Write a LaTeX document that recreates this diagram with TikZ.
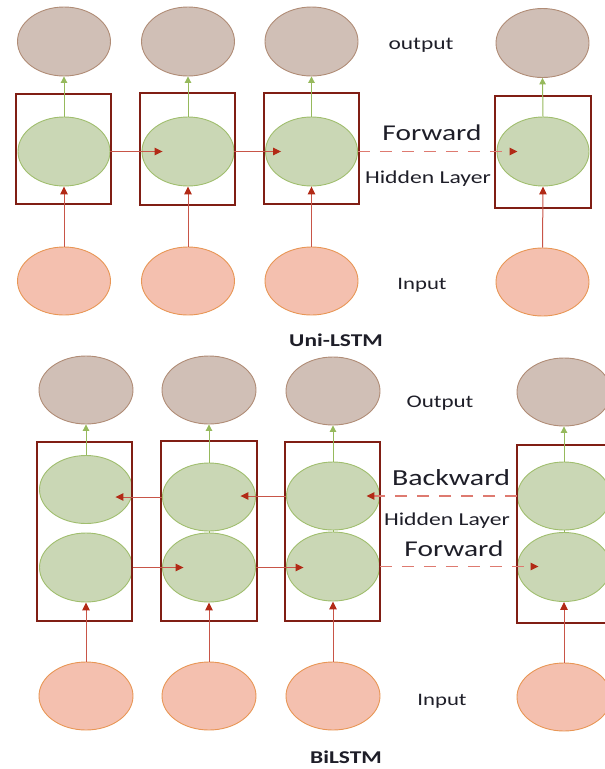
\documentclass[tikz,border=0pt]{standalone}
\usepackage{graphicx}
\usepackage{fontspec}
\setmainfont{Carlito}
\usetikzlibrary{arrows.meta,shapes.geometric}
\definecolor{outfill}{RGB}{208,191,182}
\definecolor{outdraw}{RGB}{176,140,118}
\definecolor{hidfill}{RGB}{202,215,181}
\definecolor{hiddraw}{RGB}{160,190,110}
\definecolor{infill}{RGB}{244,192,175}
\definecolor{indraw}{RGB}{232,150,85}
\definecolor{boxred}{RGB}{128,30,20}
\definecolor{linered}{RGB}{200,85,72}
\definecolor{tipred}{RGB}{178,42,22}
\definecolor{dashred}{RGB}{222,122,112}
\definecolor{greenline}{RGB}{150,185,92}
\definecolor{txt}{RGB}{30,30,40}
\newcommand{\wtxt}[1]{\scalebox{1.3}[1]{#1}}
\tikzset{
  outell/.style={ellipse, draw=outdraw, fill=outfill, line width=0.9pt, minimum width=93pt, minimum height=69pt, inner sep=0pt},
  hidell/.style={ellipse, draw=hiddraw, fill=hidfill, line width=0.9pt, minimum width=92pt, minimum height=69pt, inner sep=0pt},
  inell/.style={ellipse, draw=indraw, fill=infill, line width=0.9pt, minimum width=93pt, minimum height=68pt, inner sep=0pt},
  cellbox/.style={rectangle, draw=boxred, line width=1.9pt, inner sep=0pt, fill=none},
  redarrow/.style={draw=linered, line width=1pt, -{Triangle[length=8pt,width=7.5pt,color=tipred]}},
  dasharrow/.style={draw=dashred, line width=1.2pt, dash pattern=on 12pt off 10pt, -{Triangle[length=8pt,width=7.5pt,color=tipred]}},
  grnarrow/.style={draw=greenline, line width=1pt, -{Triangle[length=6.5pt,width=6.5pt,color=greenline]}},
  lbl/.style={anchor=base, inner sep=0pt, text=txt},
}
\begin{document}
\begin{tikzpicture}[x=1pt,y=-1pt]
\useasboundingbox (0,0) rectangle (605,769);
% ---------- Uni-LSTM ----------
\node[outell] (o1) at (64,41.5) {};
\node[outell] (o2) at (188,41.5) {};
\node[outell] (o3) at (311.5,41.5) {};
\node[outell] (o4) at (542.5,43) {};
\node[hidell] (h1) at (64,151.5) {};
\node[hidell] (h2) at (188,151.5) {};
\node[hidell] (h3) at (311.5,151.5) {};
\node[hidell] (h4) at (543,151.5) {};
\node[inell] (i1) at (64,281) {};
\node[inell] (i2) at (188,281) {};
\node[inell] (i3) at (311.5,281) {};
\node[inell] (i4) at (542.5,282) {};
\node[cellbox, minimum width=95pt, minimum height=110pt] (c1) at (63.5,149) {};
\node[cellbox, minimum width=95pt, minimum height=112pt] (c2) at (187.5,149) {};
\node[cellbox, minimum width=95pt, minimum height=111pt] (c3) at (311.5,148.5) {};
\node[cellbox, minimum width=96pt, minimum height=112pt] (c4) at (543,152) {};
\foreach \k in {1,2,3,4} {
  \draw[grnarrow] (h\k.north) -- (o\k.south);
  \draw[redarrow] (i\k.north) -- (h\k.south);
}
\draw[redarrow] (h1.east) -- ([xshift=21pt]h2.west);
\draw[redarrow] (h2.east) -- ([xshift=16pt]h3.west);
\draw[dasharrow] (h3.east) -- ([xshift=21pt]h4.west);
\node[lbl, font=\fontsize{18}{18}\selectfont] (t1) at (421,49) {\wtxt{output}};
\node[lbl, font=\fontsize{22.6}{22}\selectfont] (t2) at (432,140) {\wtxt{Forward}};
\node[lbl, font=\fontsize{18.2}{18}\selectfont] (t3) at (428,183) {\wtxt{Hidden Layer}};
\node[lbl, font=\fontsize{17.5}{18}\selectfont] (t4) at (422,289) {\wtxt{Input}};
\node[lbl, font=\fontsize{18}{18}\selectfont\bfseries] (t5) at (336,346) {\wtxt{Uni-LSTM}};
% ---------- BiLSTM ----------
\node[outell, minimum width=94pt, minimum height=68pt] (O1) at (86,390) {};
\node[outell, minimum width=94pt, minimum height=68pt] (O2) at (209,390) {};
\node[outell, minimum width=94pt, minimum height=68pt] (O3) at (333,391) {};
\node[outell, minimum width=94pt, minimum height=68pt] (O4) at (564,392) {};
\node[hidell, minimum width=93pt, minimum height=68pt] (B1) at (86,489.5) {};
\node[hidell, minimum width=93pt, minimum height=68pt] (B2) at (209,497) {};
\node[hidell, minimum width=93pt, minimum height=68pt] (B3) at (333,496) {};
\node[hidell, minimum width=93pt, minimum height=68pt] (B4) at (564,496) {};
\node[hidell, minimum width=93pt] (F1) at (86,567.5) {};
\node[hidell, minimum width=93pt] (F2) at (209,567.5) {};
\node[hidell, minimum width=93pt] (F3) at (333,566.5) {};
\node[hidell, minimum width=93pt] (F4) at (564,567) {};
\node[inell, minimum width=94pt] (I1) at (86,696) {};
\node[inell, minimum width=94pt] (I2) at (209,696) {};
\node[inell, minimum width=94pt] (I3) at (333,696) {};
\node[inell, minimum width=94pt] (I4) at (564,697) {};
\node[cellbox, minimum width=95pt, minimum height=179pt] (X1) at (84.5,531.5) {};
\node[cellbox, minimum width=96pt, minimum height=180pt] (X2) at (209,531) {};
\node[cellbox, minimum width=95pt, minimum height=179pt] (X3) at (332.5,531.5) {};
\node[cellbox, minimum width=95pt, minimum height=178pt] (X4) at (564.5,534) {};
\foreach \k in {1,2,3,4} {
  \draw[grnarrow] (B\k.north) -- (O\k.south);
  \draw[redarrow] (I\k.north) -- (F\k.south);
}
\foreach \k in {2,3,4} {
  \draw[draw=greenline, line width=0.6pt] (F\k.north) -- (B\k.south);
}
\draw[redarrow] (B2.west) -- ([xshift=-17.5pt]B1.east |- B2.west);
\draw[redarrow] (B3.west) -- ([xshift=-15.5pt]B2.east |- B3.west);
\draw[dasharrow] (B4.west) -- ([xshift=-13.5pt]B3.east |- B4.west);
\draw[redarrow] (F1.east) -- ([xshift=21.5pt]F2.west |- F1.east);
\draw[redarrow] (F2.east) -- ([xshift=17.5pt]F3.west |- F2.east);
\draw[dasharrow] (F3.east) -- ([xshift=21.5pt]F4.west |- F3.east);
\node[lbl, font=\fontsize{17.7}{18}\selectfont] (u1) at (440,407) {\wtxt{Output}};
\node[lbl, font=\fontsize{23}{23}\selectfont] (u2) at (451,485) {\wtxt{Backward}};
\node[lbl, font=\fontsize{18.2}{18}\selectfont] (u3) at (447,525) {\wtxt{Hidden Layer}};
\node[lbl, font=\fontsize{22.6}{22}\selectfont] (u4) at (454,556) {\wtxt{Forward}};
\node[lbl, font=\fontsize{17.5}{18}\selectfont] (u5) at (442,705) {\wtxt{Input}};
\node[lbl, font=\fontsize{18}{18}\selectfont\bfseries] (u6) at (346,763) {\wtxt{BiLSTM}};
\end{tikzpicture}
\end{document}
